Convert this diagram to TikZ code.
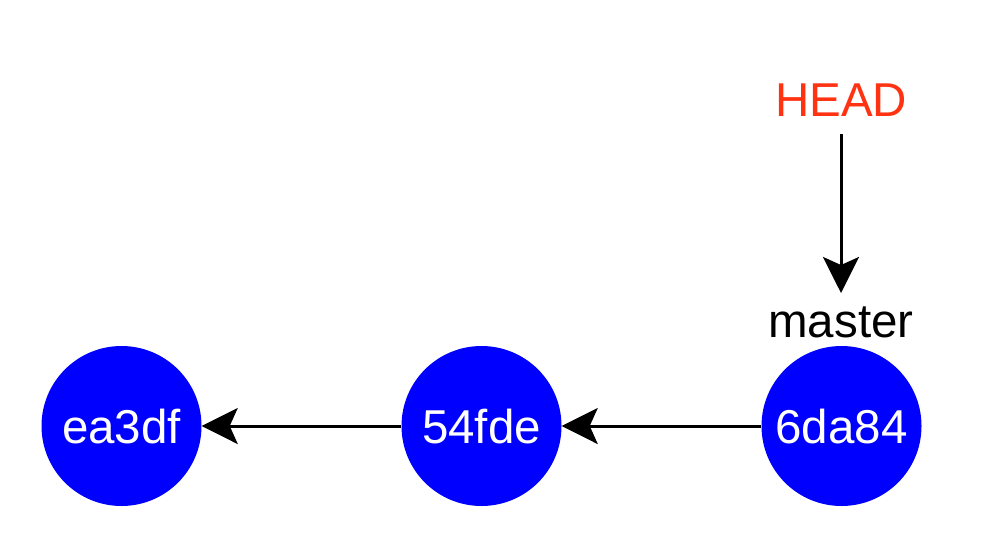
\documentclass[tikz,border=0pt]{standalone}
\usepackage{fontspec}
\setmainfont{Liberation Sans}
\usetikzlibrary{arrows.meta}
\definecolor{headred}{RGB}{255,51,17}
\begin{document}
\begin{tikzpicture}[x=1pt,y=-1pt,
  commit/.style={circle,fill={rgb,255:red,0;green,0;blue,255},minimum size=160pt,inner sep=0pt,text=white,font=\fontsize{47.5}{57}\selectfont},
  lbl/.style={inner sep=0pt,anchor=base,font=\fontsize{47.5}{57}\selectfont},
  conn/.style={line width=3pt,-{Stealth[length=36pt,width=36pt,inset=8pt]}}]
\useasboundingbox (0,0) rectangle (1000,544);
\node[commit] (c1) at (121.5,426) {};
\node[commit] (c2) at (481.5,426) {};
\node[commit] (c3) at (841.5,426) {};
\node[lbl,text=white] (t1) at (121.5,443) {ea3df};
\node[lbl,text=white] (t2) at (481.5,443) {54fde};
\node[lbl,text=white] (t3) at (841.5,443) {6da84};
\node[lbl,text=headred] (head) at (841,116.5) {HEAD};
\node[lbl] (master) at (841,337) {master};
\coordinate (hs) at (841,134);
\coordinate (he) at (841,293);
\draw[conn] (hs) -- (he);
\draw[conn] (c3) -- (c2);
\draw[conn] (c2) -- (c1);
\end{tikzpicture}
\end{document}
